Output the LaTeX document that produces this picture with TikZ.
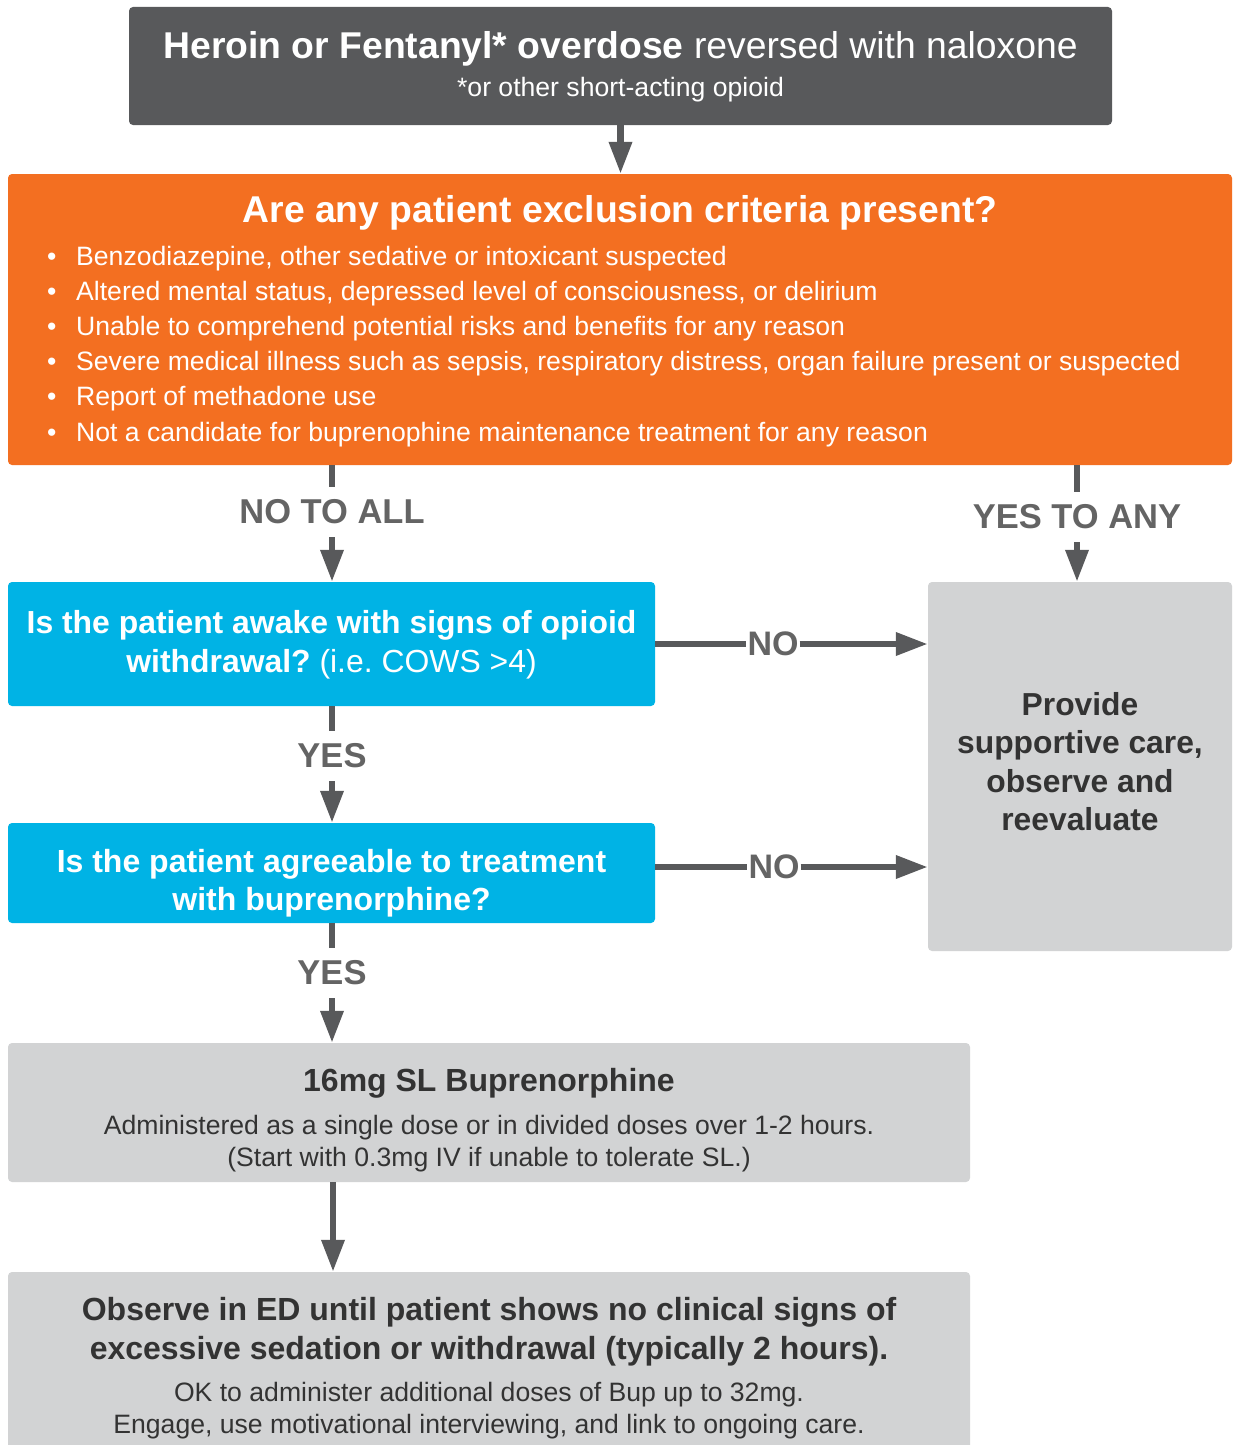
\documentclass[tikz,border=0pt]{standalone}
\usepackage{fontspec}
\setmainfont{Liberation Sans}
\frenchspacing
\usetikzlibrary{arrows.meta}
\definecolor{darkbox}{HTML}{58595B}
\definecolor{orangebox}{HTML}{F36F21}
\definecolor{bluebox}{HTML}{00B3E5}
\definecolor{graybox}{HTML}{D2D3D4}
\definecolor{labelgray}{HTML}{646464}
\definecolor{darktext}{HTML}{333333}
\tikzset{
  box/.style={rectangle, rounded corners=4pt, draw=none, inner sep=0pt},
  conn/.style={draw=darkbox, line width=6.5pt, -{Triangle[length=32pt,width=22pt]}},
  plainline/.style={draw=darkbox, line width=6.5pt},
  lab/.style={font=\fontsize{34.5}{38}\selectfont\bfseries, text=labelgray, inner sep=0pt, minimum height=50pt},
  hlab/.style={font=\fontsize{34}{38}\selectfont\bfseries, text=labelgray, inner xsep=1pt, inner ysep=0pt},
  bul/.style={font=\fontsize{26.6}{30}\selectfont, text=white, anchor=west, text height=19pt, text depth=6pt, inner sep=0pt},
}
\begin{document}
\begin{tikzpicture}[x=1pt,y=-1pt]
\useasboundingbox (0,0) rectangle (1233,1445);
\fill[white] (0,0) rectangle (1233,1445);

% top box
\node[box, fill=darkbox, minimum width=983pt, minimum height=118pt] (top) at (620.5,66) {};
\node[font=\fontsize{37.3}{40}\selectfont, text=white] (toptitle) at (620.5,49) {\textbf{Heroin or Fentanyl* overdose} reversed with naloxone};
\node[font=\fontsize{26.6}{30}\selectfont, text=white] (topsub) at (620.5,89.5) {*or other short-acting opioid};

% orange box
\node[box, fill=orangebox, minimum width=1224pt, minimum height=291pt] (orange) at (620,319.5) {};
\node[font=\fontsize{37.3}{40}\selectfont\bfseries, text=white] (otitle) at (620,213) {Are any patient exclusion criteria present?};
\foreach \yy/\tx [count=\i] in {258.5/{Benzodiazepine, other sedative or intoxicant suspected},
  293.5/{Altered mental status, depressed level of consciousness, or delirium},
  329/{Unable to comprehend potential risks and benefits for any reason},
  364/{Severe medical illness such as sepsis, respiratory distress, organ failure present or suspected},
  399/{Report of methadone use},
  434.5/{Not a candidate for buprenophine maintenance treatment for any reason}}{
  \node[bul] (bd\i) at (47,\yy) {•};
  \node[bul] (bt\i) at (76,\yy) {\tx};
}

% blue box 1
\node[box, fill=bluebox, minimum width=647pt, minimum height=124pt] (blue1) at (331.5,644) {};
\node[font=\fontsize{31.9}{39}\selectfont, text=white, align=center] (blue1t) at (331.5,645) {\textbf{Is the patient awake with signs of opioid}\\\textbf{withdrawal?} (i.e.\ COWS >4)};

% blue box 2
\node[box, fill=bluebox, minimum width=647pt, minimum height=100pt] (blue2) at (331.5,873) {};
\node[font=\fontsize{32}{38}\selectfont\bfseries, text=white, align=center] (blue2t) at (331.5,883) {Is the patient agreeable to treatment\\with buprenorphine?};

% right gray box
\node[box, fill=graybox, minimum width=304pt, minimum height=369pt] (right) at (1080,766.5) {};
\node[font=\fontsize{31.8}{38.5}\selectfont\bfseries, text=darktext, align=center] (rightt) at (1080,761.5) {Provide\\supportive care,\\observe and\\reevaluate};

% gray box 3
\node[box, fill=graybox, minimum width=962pt, minimum height=139pt] (gray3) at (489,1112.5) {};
\node[font=\fontsize{32}{36}\selectfont\bfseries, text=darktext] (gray3t) at (489,1083) {16mg SL Buprenorphine};
\node[font=\fontsize{26.6}{32}\selectfont, text=darktext, align=center] (gray3b) at (489,1143.5) {Administered as a single dose or in divided doses over 1-2 hours.\\(Start with 0.3mg IV if unable to tolerate SL.)};

% gray box 4
\node[box, fill=graybox, minimum width=962pt, minimum height=200pt] (gray4) at (489,1372) {};
\node[font=\fontsize{32}{39}\selectfont\bfseries, text=darktext, align=center] (gray4t) at (489,1332) {Observe in ED until patient shows no clinical signs of\\excessive sedation or withdrawal (typically 2 hours).};
\node[font=\fontsize{26.6}{32}\selectfont, text=darktext, align=center] (gray4b) at (489,1410.5) {OK to administer additional doses of Bup up to 32mg.\\Engage, use motivational interviewing, and link to ongoing care.};

% connectors
\draw[conn] (top.south) -- (top.south |- orange.north);

\node[lab] (noall) at (332,512) {NO TO ALL};
\draw[plainline] (orange.south -| noall) -- (noall.north);
\draw[conn] (noall.south) -- (noall.south |- blue1.north);

\node[lab] (yesany) at (1077,517) {YES TO ANY};
\draw[plainline] (orange.south -| yesany) -- (yesany.north);
\draw[conn] (yesany.south) -- (yesany.south |- right.north);

\node[lab] (yes1) at (332,756) {YES};
\draw[plainline] (blue1.south -| yes1) -- (yes1.north);
\draw[conn] (yes1.south) -- (yes1.south |- blue2.north);

\node[lab] (yes2) at (332,973) {YES};
\draw[plainline] (blue2.south -| yes2) -- (yes2.north);
\draw[conn] (yes2.south) -- (yes2.south |- gray3.north);

\node[hlab] (no1) at (773,644) {NO};
\draw[plainline] (blue1.east |- no1) -- (no1.west);
\draw[conn] (no1.east) -- (no1.east -| right.west);

\node[hlab] (no2) at (774,867) {NO};
\draw[plainline] (blue2.east |- no2) -- (no2.west);
\draw[conn] (no2.east) -- (no2.east -| right.west);

\coordinate (c5) at (333,0);
\draw[conn] (gray3.south -| c5) -- (gray4.north -| c5);
\end{tikzpicture}
\end{document}
